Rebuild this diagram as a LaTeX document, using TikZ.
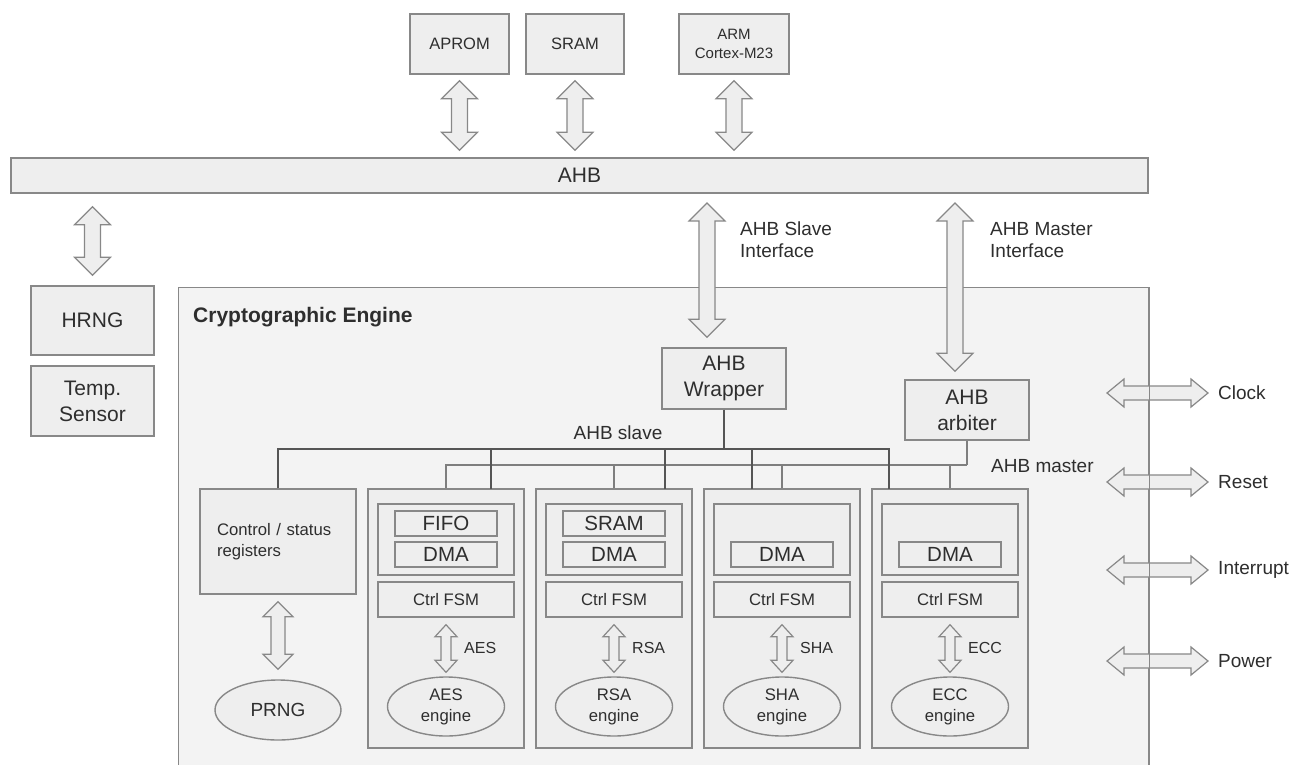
\documentclass[tikz,border=0pt]{standalone}
\usepackage{fontspec}
\setmainfont{Liberation Sans}
\usetikzlibrary{shapes.geometric,calc}

\definecolor{boxfill}{HTML}{EEEEEE}
\definecolor{enginefill}{HTML}{F3F3F3}
\definecolor{edge}{HTML}{888888}
\definecolor{ink}{HTML}{2E2E2E}
\definecolor{slavewire}{HTML}{555555}
\definecolor{masterwire}{HTML}{7E7E7E}

% vertical two-headed block arrow: top point, bottom point, shaft half width, head half width, head length
\newcommand\vbiarrow[5]{%
  \draw[fatarrow] let \p1=#1, \p2=#2 in
    (\x1,\y1) -- (\x1+#4pt,\y1-#5pt) -- (\x1+#3pt,\y1-#5pt) -- (\x1+#3pt,\y2+#5pt)
    -- (\x1+#4pt,\y2+#5pt) -- (\x1,\y2) -- (\x1-#4pt,\y2+#5pt) -- (\x1-#3pt,\y2+#5pt)
    -- (\x1-#3pt,\y1-#5pt) -- (\x1-#4pt,\y1-#5pt) -- cycle;}
% horizontal two-headed block arrow: left point, right point, shaft half width, head half width, head length
\newcommand\hbiarrow[5]{%
  \draw[fatarrow] let \p1=#1, \p2=#2 in
    (\x1,\y1) -- (\x1+#5pt,\y1+#4pt) -- (\x1+#5pt,\y1+#3pt) -- (\x2-#5pt,\y1+#3pt)
    -- (\x2-#5pt,\y1+#4pt) -- (\x2,\y1) -- (\x2-#5pt,\y1-#4pt) -- (\x2-#5pt,\y1-#3pt)
    -- (\x1+#5pt,\y1-#3pt) -- (\x1+#5pt,\y1-#4pt) -- cycle;}

\begin{document}
\begin{tikzpicture}[x=1pt,y=-1pt,
  box/.style={draw=edge, fill=boxfill, line width=1.4pt, inner sep=0pt, text=ink, align=center},
  oval/.style={ellipse, draw=edge, fill=boxfill, line width=1.4pt, inner sep=0pt, text=ink, align=center},
  enginebox/.style={draw=edge, fill=enginefill, line width=1.4pt, inner sep=0pt},
  edgeline/.style={draw=edge, line width=1.4pt},
  fatarrow/.style={draw=edge, fill=boxfill, line width=1.2pt, line join=miter},
  slavebus/.style={draw=slavewire, line width=2.8pt},
  masterbus/.style={draw=masterwire, line width=1.6pt},
  txt/.style={text=ink, inner sep=0pt, align=left},
  f15/.style={font=\fontsize{15}{19}\selectfont},
  f16/.style={font=\fontsize{16.5}{20}\selectfont},
  f17/.style={font=\fontsize{16.7}{21}\selectfont},
  f19/.style={font=\fontsize{19}{22}\selectfont},
  f21/.style={font=\fontsize{21}{26}\selectfont},
]
\clip (0,0) rectangle (1292,764);
\fill[white] (0,0) rectangle (1292,764);

% ---- system level blocks
\node[box, f16, minimum width=99pt, minimum height=60pt] (aprom) at (459.5,44) {APROM};
\node[box, f16, minimum width=98pt, minimum height=60pt] (sram) at (575,44) {SRAM};
\node[box, f15, minimum width=110pt, minimum height=60pt] (arm) at (734,44) {ARM\\Cortex-M23};
\node[box, f21, minimum width=1137pt, minimum height=35pt] (ahb) at (579.5,175.5) {AHB};
\node[box, f21, minimum width=123pt, minimum height=69pt] (hrng) at (92.5,320.5) {HRNG};
\node[box, f21, minimum width=123pt, minimum height=70pt] (temp) at (92.5,401) {Temp.\\Sensor};

\vbiarrow{($(aprom.south)+(0,6)$)}{($(aprom.south |- ahb.north)+(0,-7)$)}{8}{18}{18}
\vbiarrow{($(sram.south)+(0,6)$)}{($(sram.south |- ahb.north)+(0,-7)$)}{8}{18}{18}
\vbiarrow{($(arm.south)+(0,6)$)}{($(arm.south |- ahb.north)+(0,-7)$)}{8}{18}{18}
\vbiarrow{($(hrng.north |- ahb.south)+(0,13)$)}{($(hrng.north)+(0,-10)$)}{8}{18}{18}

% ---- cryptographic engine
\node[enginebox, anchor=north west, minimum width=970pt, minimum height=520pt] (engine) at (178,287) {};
\node[txt, font=\bfseries\fontsize{21}{26}\selectfont, anchor=west] (title) at (193,317) {Cryptographic Engine};

\node[box, f21, minimum width=124pt, minimum height=61pt] (wrapper) at (724,378.5) {AHB\\Wrapper};
\node[box, f21, minimum width=124pt, minimum height=60pt] (arbiter) at (967,410) {AHB\\arbiter};

\coordinate (slavetop) at (707,203);
\coordinate (mastertop) at (955,203);
\vbiarrow{(slavetop)}{($(slavetop |- wrapper.north)+(0,-10)$)}{8}{18}{18}
\vbiarrow{(mastertop)}{($(mastertop |- arbiter.north)+(0,-8)$)}{8}{18}{18}
\node[txt, f19, anchor=west] (slaveif) at (740,240) {AHB Slave\\Interface};
\node[txt, f19, anchor=west] (masterif) at (990,240) {AHB Master\\Interface};

% control / status registers and PRNG
\node[box, f17, minimum width=156pt, minimum height=105pt, text width=122pt, align=left] (ctrl) at (278,541.5) {Control / status\\registers};
\node[oval, font=\fontsize{19}{22}\selectfont, minimum width=126pt, minimum height=60pt] (prng) at (278,710) {PRNG};
\vbiarrow{($(ctrl.south)+(0,7)$)}{($(prng.north)+(0,-10)$)}{7}{15}{15}

% crypto accelerators
\foreach \k/\cx/\lab in {aes/446/AES, rsa/614/RSA, sha/782/SHA, ecc/950/ECC}{
  \node[box, minimum width=156pt, minimum height=259pt] (\k) at (\cx,618.5) {};
  \node[box, minimum width=136pt, minimum height=71pt] (\k buf) at (\cx,539.5) {};
  \node[box, font=\fontsize{20.5}{24}\selectfont, minimum width=102pt, minimum height=25pt] (\k dma) at (\cx,554.5) {DMA};
  \node[box, f17, minimum width=136pt, minimum height=35pt] (\k fsm) at (\cx,599.5) {Ctrl FSM};
  \node[oval, f17, minimum width=117pt, minimum height=59pt] (\k eng) at (\cx,706.5) {\lab\\engine};
  \vbiarrow{($(\k fsm.south)+(0,7)$)}{($(\k eng.north)+(0,-4)$)}{5}{11}{12}
  \node[txt, font=\fontsize{16}{19}\selectfont, anchor=west] (\k lbl) at ($(\k fsm.south)+(18,30)$) {\lab};
}
\node[box, font=\fontsize{20.5}{24}\selectfont, minimum width=102pt, minimum height=25pt] (fifo) at (446,523.5) {FIFO};
\node[box, font=\fontsize{20.5}{24}\selectfont, minimum width=102pt, minimum height=25pt] (rsasram) at (614,523.5) {SRAM};

% ---- AHB master bus (arbiter to accelerators)
\coordinate (mb) at (967,465);
\draw[masterbus] (arbiter.south) -- (mb);
\draw[masterbus] (mb) -| (aes.north);
\draw[masterbus] (rsa.north) -- (rsa.north |- mb);
\draw[masterbus] (sha.north) -- (sha.north |- mb);
\draw[masterbus] (ecc.north) -- (ecc.north |- mb);

% ---- AHB slave bus (wrapper to registers and accelerators)
\coordinate (sb) at (724,449);
\coordinate (aesS) at (491,489);
\coordinate (rsaS) at (665,489);
\coordinate (shaS) at (752,489);
\coordinate (eccS) at (889,489);
\draw[slavebus] (wrapper.south) -- (sb);
\draw[slavebus] (ctrl.north) |- (sb);
\draw[slavebus] (sb) -| (eccS);
\draw[slavebus] (aesS) -- (aesS |- sb);
\draw[slavebus] (rsaS) -- (rsaS |- sb);
\draw[slavebus] (shaS) -- (shaS |- sb);

\node[txt, f19, anchor=center] (slavelbl) at (618,433) {AHB slave};
\node[txt, f19, anchor=west] (masterlbl) at (991,466) {AHB master};

% ---- side-band signals
\foreach \k/\yy/\lab in {clock/393/Clock, reset/482/Reset, irq/570/Interrupt, power/661/Power}{
  \node[txt, f19, anchor=west] (\k) at (1218,\yy) {\lab};
  \coordinate (\k end) at (1107,\yy);
  \hbiarrow{(\k end)}{($(\k.west)+(-10,0)$)}{7}{14}{17}
}
\draw[edgeline] (engine.north east) -- (engine.south east);
\end{tikzpicture}
\end{document}
